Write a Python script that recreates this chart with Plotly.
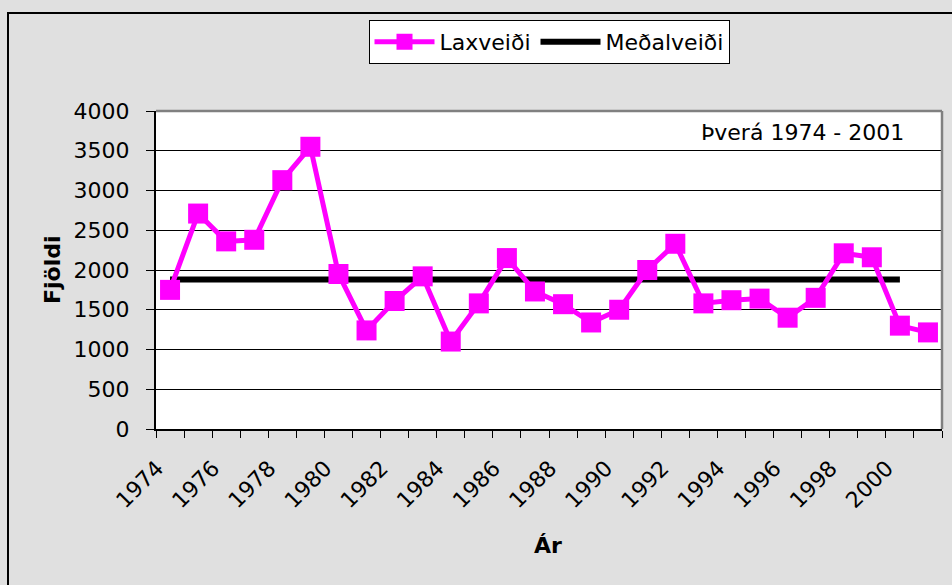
import plotly.graph_objects as go

years = list(range(1974, 2002))
laxveidi = [1750, 2710, 2360, 2380, 3130, 3550, 1950, 1240, 1610, 1920,
            1100, 1580, 2150, 1730, 1570, 1340, 1500, 2000, 2330, 1580,
            1620, 1640, 1400, 1650, 2210, 2160, 1300, 1215]
medal_years = list(range(1974, 2001))
medalveidi = [1881, 1881, 1881, 1881, 1881, 1881, 1881, 1881, 1881,
              1881, 1881, 1881, 1881, 1881, 1881, 1881, 1881, 1881,
              1881, 1881, 1881, 1881, 1881, 1881, 1881, 1881, 1881]
label_years = years[::2]
y_ticks = [0, 500, 1000, 1500, 2000, 2500, 3000, 3500, 4000]

FONT = "DejaVu Sans"
FS = 22

fig = go.Figure()
fig.add_trace(go.Scatter(
    x=medal_years, y=medalveidi, name="Meðalveiði", mode="lines",
    line=dict(color="black", width=6), xaxis="x", yaxis="y"))
fig.add_trace(go.Scatter(
    x=years, y=laxveidi, name="Laxveiði", mode="lines+markers",
    line=dict(color="#ff00ff", width=5),
    marker=dict(symbol="square", size=20, color="#ff00ff"),
    xaxis="x2", yaxis="y"))

xr = [years[0] - 0.5, years[-1] + 0.5]
bounds = [y - 0.5 for y in years] + [years[-1] + 0.5]

fig.update_layout(
    width=952, height=585,
    margin=dict(l=156, r=10, t=111, b=156),
    paper_bgcolor="#e0e0e0", plot_bgcolor="white",
    font=dict(family=FONT, size=FS, color="black"),
    showlegend=True,
    legend=dict(orientation="h", x=0.5, xanchor="center", y=1.286, yanchor="top",
                bgcolor="white", bordercolor="black", borderwidth=1,
                traceorder="reversed", itemwidth=60,
                font=dict(family=FONT, size=FS)),
    xaxis=dict(range=xr, tickvals=bounds, showticklabels=False,
               ticks="outside", ticklen=7, tickcolor="black", tickwidth=1,
               showgrid=False, zeroline=False, showline=True,
               linecolor="black", linewidth=2),
    xaxis2=dict(range=xr, overlaying="x", anchor="y", side="bottom",
                tickvals=label_years, ticktext=[str(y) for y in label_years],
                tickangle=-45, ticks="", showgrid=False, zeroline=False,
                showline=False, ticklabelstandoff=21, ticklabelshift=-13,
                tickfont=dict(family=FONT, size=FS)),
    yaxis=dict(range=[0, 4000], tickvals=y_ticks, ticks="outside", ticklen=8,
               tickcolor="black", showgrid=True, gridcolor="black", gridwidth=1,
               zeroline=False, showline=True, linecolor="black", linewidth=2,
               ticklabelstandoff=12, tickfont=dict(family=FONT, size=FS)),
    annotations=[
        dict(text="Þverá 1974 - 2001", xref="paper", yref="paper",
             x=0.823, y=0.931, xanchor="center", yanchor="middle",
             showarrow=False, font=dict(family=FONT, size=FS)),
        dict(text="<b>Fjöldi</b>", xref="paper", yref="paper",
             x=(52 - 156) / 786, y=(429 - 270) / 318, textangle=-90,
             xanchor="center", yanchor="middle",
             showarrow=False, font=dict(family=FONT, size=FS)),
        dict(text="<b>Ár</b>", xref="paper", yref="paper",
             x=(548 - 156) / 786, y=(429 - 545) / 318,
             xanchor="center", yanchor="middle",
             showarrow=False, font=dict(family=FONT, size=FS)),
    ],
    shapes=[
        dict(type="line", xref="paper", yref="paper", x0=0, x1=1, y0=1, y1=1,
             line=dict(color="#808080", width=2.5)),
        dict(type="line", xref="paper", yref="paper", x0=1, x1=1, y0=0, y1=1,
             line=dict(color="#808080", width=2.5)),
        dict(type="rect", xref="paper", yref="paper",
             x0=(8 - 156) / 786, x1=1.2, y0=-0.8, y1=(429 - 13) / 318,
             line=dict(color="black", width=2), layer="below"),
    ],
)

fig.write_html("out.html", config={"displayModeBar": False},
               post_script="document.body.style.margin='0';document.body.style.overflow='hidden';")
